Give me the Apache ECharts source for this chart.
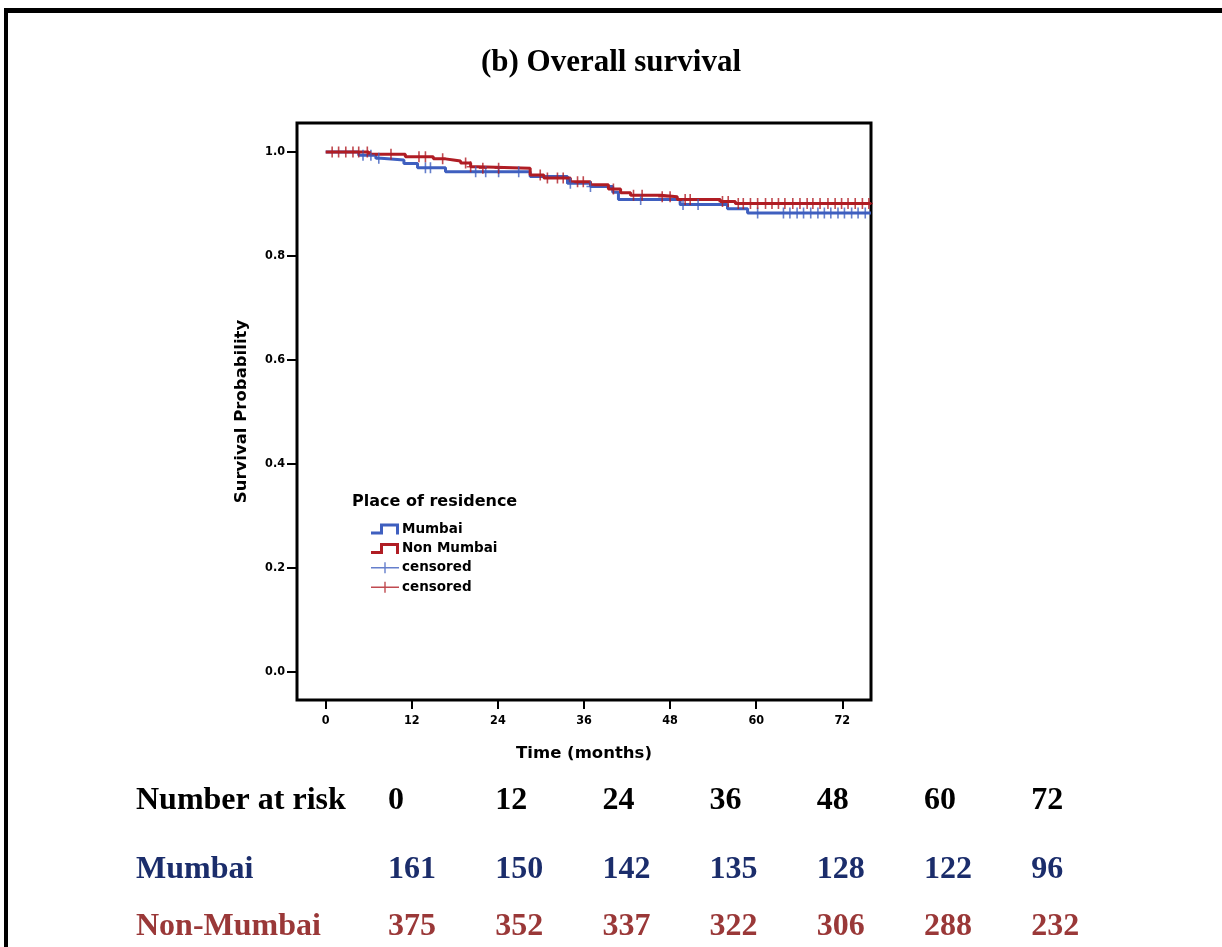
<!DOCTYPE html>
<html>
<head>
<meta charset="utf-8">
<script src="https://cdn.jsdelivr.net/npm/echarts@6/dist/echarts.min.js"></script>
<style>
  html, body { margin: 0; padding: 0; background: #fff; }
  #chart { width: 1222px; height: 947px; }
</style>
</head>
<body>
<div id="chart"></div>
<script>
// Kaplan-Meier step estimates: event time (months) and survival after that step
const mumbaiTimes = [0, 4.6, 7.0, 7.7, 10.9, 12.8, 16.7, 28.5, 33.7, 36.9, 40.0, 40.8, 49.4, 56.0, 58.8, 76];
const mumbaiSurv  = [1.0, 0.994, 0.988, 0.985, 0.978, 0.970, 0.962, 0.953, 0.940, 0.934, 0.923, 0.909, 0.899, 0.891, 0.883, 0.883];

const nonMumbaiTimes = [0, 6.0, 11.1, 15.0, 16.7, 17.8, 18.8, 20.2, 21.2, 28.5, 30.4, 34.1, 36.9, 39.4, 41.1, 42.5, 46.7, 49.0, 55.0, 57.1, 76];
const nonMumbaiSurv  = [1.0, 0.996, 0.991, 0.987, 0.985, 0.983, 0.979, 0.972, 0.969, 0.956, 0.950, 0.943, 0.937, 0.929, 0.922, 0.917, 0.914, 0.909, 0.905, 0.901, 0.901];

// Censoring times (months)
const mumbaiCensored = [5.2, 6.3, 7.4, 13.9, 14.6, 20.9, 22.3, 24.1, 26.9, 34.1, 36.9, 43.9, 49.8, 51.9, 60.2,
  63.8, 64.7, 65.7, 66.6, 67.6, 68.6, 69.5, 70.4, 71.4, 72.3, 73.3, 74.2, 75.2];
const nonMumbaiCensored = [0.9, 1.8, 2.8, 3.8, 4.6, 5.8, 9.1, 13.0, 13.9, 16.3, 19.5, 20.2, 21.9, 24.1, 29.9, 30.9,
  32.3, 33.1, 35.1, 35.9, 40.1, 42.9, 44.1, 46.9, 48.0, 50.1, 50.8, 55.3, 56.1, 57.5, 58.2, 59.2, 60.2, 61.3,
  62.2, 63.1, 64.0, 65.1, 66.1, 67.1, 67.9, 68.9, 70.0, 71.0, 71.9, 72.8, 73.8, 74.8, 75.7];

// Axis ticks
const xTicks = [0, 12, 24, 36, 48, 60, 72];
const yTicks = [0, 0.2, 0.4, 0.6, 0.8, 1.0];

// Number at risk table
const riskHeader = ['0', '12', '24', '36', '48', '60', '72'];
const mumbaiRisk = [161, 150, 142, 135, 128, 122, 96];
const nonMumbaiRisk = [375, 352, 337, 322, 306, 288, 232];

const BLUE = '#3f5fbf';
const RED = '#b01d24';
const BLUE_TXT = '#1b2d6b';
const RED_TXT = '#9a3838';

function survAt(times, surv, t) {
  let s = surv[0];
  for (let i = 0; i < times.length; i++) {
    if (times[i] <= t) s = surv[i];
  }
  return s;
}
function stepData(times, surv) {
  return times.map((t, i) => [t, surv[i]]);
}
function censorData(cens, times, surv) {
  return cens.map(t => [t, survAt(times, surv, t)]);
}

const STEP_ICON = 'path://M0,8H9V0H28V11H25V3H12V11H0Z';
const PLUS_ICON = 'path://M0,4.8H13.3V0H14.7V4.8H28V6.2H14.7V11H13.3V6.2H0Z';
const PLUS_MARK = 'path://M4,0H6V4.3H10V5.7H6V10H4V5.7H0V4.3H4Z';

const serifBold = 'bold 32px "Liberation Serif", "Times New Roman", serif';
const tableGraphics = [];
const rowLabelX = 136;
const colX0 = 388, colStep = 107.2;
function addRow(label, values, color, y) {
  tableGraphics.push({
    type: 'text', left: rowLabelX, top: y - 14,
    style: { text: label, font: serifBold, fill: color }
  });
  values.forEach((v, i) => {
    tableGraphics.push({
      type: 'text', left: colX0 + i * colStep, top: y - 14,
      style: { text: String(v), font: serifBold, fill: color }
    });
  });
}
addRow('Number at risk', riskHeader, '#000', 799);
addRow('Mumbai', mumbaiRisk, BLUE_TXT, 868);
addRow('Non-Mumbai', nonMumbaiRisk, RED_TXT, 925);

const chart = echarts.init(document.getElementById('chart'), null, { renderer: 'canvas' });

const sansBold = '"DejaVu Sans", Verdana, sans-serif';
const tickFont = '"DejaVu Sans Condensed", "DejaVu Sans", sans-serif';

chart.setOption({
  animation: false,
  backgroundColor: '#fff',
  title: [
    {
      text: '(b) Overall survival',
      left: 'center', top: 47, padding: 0,
      textStyle: { fontFamily: '"Liberation Serif", "Times New Roman", serif', fontWeight: 'bold', fontSize: 31, color: '#000' }
    },
    {
      text: 'Place of residence',
      left: 352, top: 494, padding: 0,
      textStyle: { fontFamily: sansBold, fontWeight: 'bold', fontSize: 16, color: '#000' }
    }
  ],
  legend: {
    orient: 'vertical',
    left: 371, top: 522,
    padding: 0,
    itemWidth: 28, itemHeight: 11, itemGap: 5.4,
    symbolKeepAspect: false,
    selectedMode: false,
    textStyle: { fontFamily: sansBold, fontWeight: 'bold', fontSize: 13.5, color: '#000', padding: [0, 0, 0, -2] },
    formatter: name => name.endsWith('censored') ? 'censored' : name,
    data: [
      { name: 'Mumbai', icon: STEP_ICON },
      { name: 'Non Mumbai', icon: STEP_ICON },
      { name: 'Mumbai censored', icon: PLUS_ICON },
      { name: 'Non Mumbai censored', icon: PLUS_ICON }
    ]
  },
  grid: {
    left: 297, top: 123, width: 574, height: 577,
    show: true, borderColor: '#000', borderWidth: 3, backgroundColor: '#fff'
  },
  xAxis: {
    type: 'value', min: -4, max: 76,
    name: 'Time (months)', nameLocation: 'middle', nameGap: 45,
    nameTextStyle: { fontFamily: sansBold, fontWeight: 'bold', fontSize: 16.5, color: '#000' },
    axisLine: { show: false, onZero: false },
    splitLine: { show: false },
    axisTick: { show: true, length: 9, customValues: xTicks, lineStyle: { color: '#000', width: 2 } },
    axisLabel: { customValues: xTicks, margin: 14, color: '#000', fontFamily: tickFont, fontWeight: 'bold', fontSize: 12.5 }
  },
  yAxis: {
    type: 'value', min: -0.054, max: 1.056,
    name: 'Survival Probability', nameLocation: 'middle', nameGap: 47, nameRotate: 90,
    nameTextStyle: { fontFamily: sansBold, fontWeight: 'bold', fontSize: 16.5, color: '#000' },
    axisLine: { show: false, onZero: false },
    splitLine: { show: false },
    axisTick: { show: true, length: 10, customValues: yTicks, lineStyle: { color: '#000', width: 2 } },
    axisLabel: {
      customValues: yTicks, margin: 12, color: '#000', fontFamily: tickFont, fontWeight: 'bold', fontSize: 12.5,
      formatter: v => v.toFixed(1)
    }
  },
  series: [
    {
      name: 'Mumbai', type: 'line', step: 'end', showSymbol: false, symbol: 'none',
      color: BLUE, lineStyle: { color: BLUE, width: 3 }, z: 2,
      data: stepData(mumbaiTimes, mumbaiSurv)
    },
    {
      name: 'Non Mumbai', type: 'line', step: 'end', showSymbol: false, symbol: 'none',
      color: RED, lineStyle: { color: RED, width: 3 }, z: 3,
      data: stepData(nonMumbaiTimes, nonMumbaiSurv)
    },
    {
      name: 'Mumbai censored', type: 'scatter', symbol: PLUS_MARK, symbolSize: [8, 11],
      color: BLUE, itemStyle: { color: BLUE }, z: 4,
      data: censorData(mumbaiCensored, mumbaiTimes, mumbaiSurv)
    },
    {
      name: 'Non Mumbai censored', type: 'scatter', symbol: PLUS_MARK, symbolSize: [8, 11],
      color: RED, itemStyle: { color: RED }, z: 5,
      data: censorData(nonMumbaiCensored, nonMumbaiTimes, nonMumbaiSurv)
    }
  ],
  graphic: [
    // page frame
    { type: 'rect', shape: { x: 4, y: 8, width: 1218, height: 5 }, style: { fill: '#000' } },
    { type: 'rect', shape: { x: 4, y: 8, width: 4, height: 939 }, style: { fill: '#000' } },
    ...tableGraphics
  ]
});
</script>
</body>
</html>
